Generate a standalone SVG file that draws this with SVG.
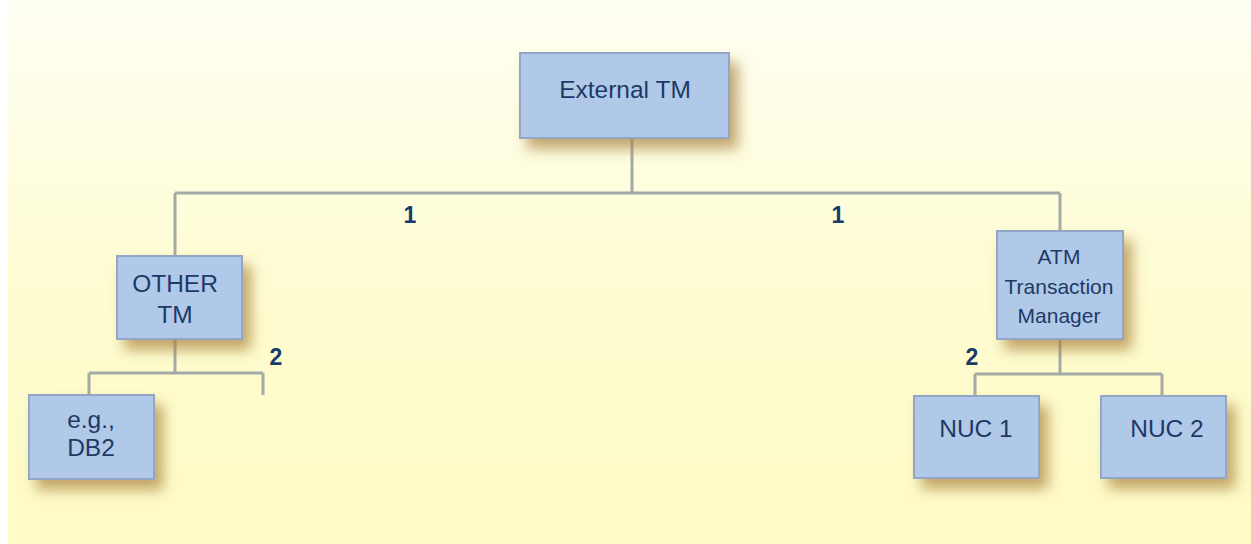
<svg xmlns="http://www.w3.org/2000/svg" width="1251" height="544" viewBox="0 0 1251 544">
<defs>
<linearGradient id="bg" x1="0" y1="0" x2="0" y2="1">
<stop offset="0" stop-color="#fffff4"/>
<stop offset="0.55" stop-color="#fefcd0"/>
<stop offset="1" stop-color="#fefbc6"/>
</linearGradient>
<filter id="sh" x="-20%" y="-20%" width="160%" height="170%">
<feDropShadow dx="8" dy="10" stdDeviation="7" flood-color="#a8803c" flood-opacity="0.7"/>
</filter>
</defs>
<style>
.box{fill:#b1c9e9;stroke:#93a7c4;stroke-width:2;filter:url(#sh)}
.t{font-family:"Liberation Sans",Arial,sans-serif;font-size:24.5px;fill:#1d3a66;text-anchor:middle}
.s{font-size:21px}
.n{font-family:"Liberation Sans",Arial,sans-serif;font-size:23px;font-weight:bold;fill:#1a3a6c;text-anchor:middle}
.c{fill:none;stroke:#a3aba7;stroke-width:3}
</style>
<rect x="0" y="0" width="1251" height="544" fill="#ffffff"/>
<rect x="8" y="0" width="1243" height="544" fill="url(#bg)"/>
<g id="connectors">
<path class="c" d="M632 138 V193 M175 193 H1060 M175 193 V256 M1060 193 V231"/>
<path class="c" d="M175 339 V373 M89 373 H263 M89 373 V395 M263 373 V395"/>
<path class="c" d="M1060 339 V374 M975 374 H1162 M975 374 V396 M1162 374 V396"/>
</g>
<g id="labels">
<text class="n" x="410" y="223">1</text>
<text class="n" x="838" y="223">1</text>
<text class="n" x="276" y="365">2</text>
<text class="n" x="972" y="365">2</text>
</g>
<g id="external-tm">
<rect class="box" x="520" y="53" width="209" height="85"/>
<text class="t" x="625" y="98">External TM</text>
</g>
<g id="other-tm">
<rect class="box" x="117" y="256" width="125" height="83"/>
<text class="t" x="175" y="292">OTHER</text>
<text class="t" x="175" y="323">TM</text>
</g>
<g id="db2">
<rect class="box" x="29" y="395" width="125" height="84"/>
<text class="t" x="91" y="428">e.g.,</text>
<text class="t" x="91" y="456">DB2</text>
</g>
<g id="atm">
<rect class="box" x="997" y="231" width="126" height="108"/>
<text class="t s" x="1059" y="264">ATM</text>
<text class="t s" x="1059" y="294">Transaction</text>
<text class="t s" x="1059" y="323">Manager</text>
</g>
<g id="nuc1">
<rect class="box" x="914" y="396" width="125" height="82"/>
<text class="t" x="976" y="437">NUC 1</text>
</g>
<g id="nuc2">
<rect class="box" x="1101" y="396" width="125" height="82"/>
<text class="t" x="1167" y="437">NUC 2</text>
</g>
</svg>
